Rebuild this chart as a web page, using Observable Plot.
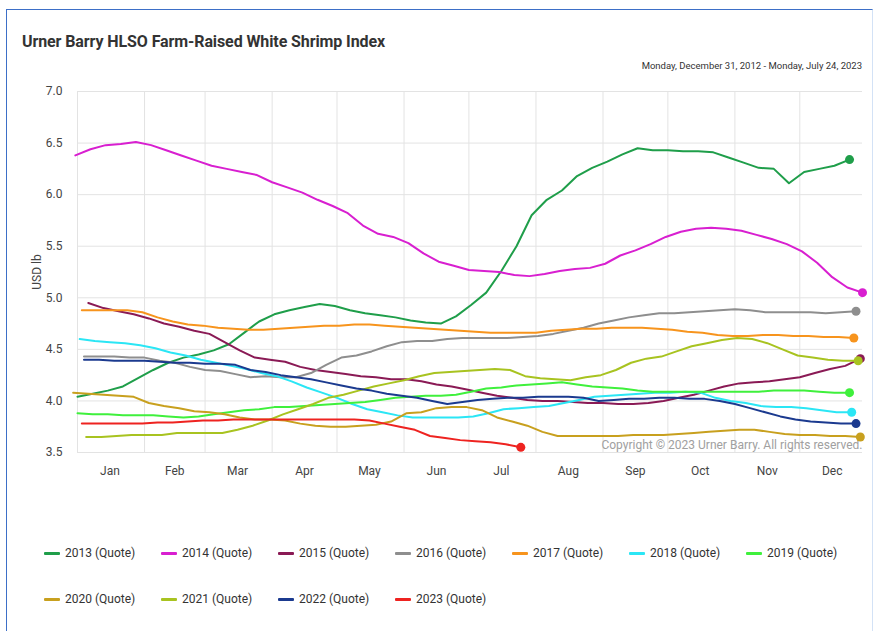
<!DOCTYPE html>
<html><head><meta charset="utf-8">
<script src="https://cdn.jsdelivr.net/npm/d3@7"></script>
<script src="https://cdn.jsdelivr.net/npm/@observablehq/plot@0.6"></script>
<style>
body{margin:0;background:#fff;font-family:Roboto,"Noto Sans",sans-serif;}
#wrap{position:relative;width:875px;height:631px;overflow:hidden;}
#frame{position:absolute;left:6px;top:9px;width:865px;height:640px;border-top:1.5px solid #3d6fc7;border-left:1.5px solid #3d6fc7;border-right:1px solid #d3e2f6;}
#title{position:absolute;left:22px;top:32px;font-size:16px;font-weight:700;color:#333;white-space:nowrap;letter-spacing:-0.1px;}
#subtitle{position:absolute;right:13px;top:60px;font-size:9.5px;color:#333;white-space:nowrap;}
#chart{position:absolute;left:0;top:0;}
#legend{position:absolute;left:44px;top:544px;width:830px;display:flex;flex-wrap:wrap;}
.item{width:117px;height:46px;display:flex;align-items:flex-start;font-size:12px;color:#333;line-height:18px;white-space:nowrap;}
.sw{display:inline-block;width:16px;height:3px;margin:8px 5px 0 0;border-radius:1px;}
</style></head>
<body>
<div id="wrap">
  <div id="frame"></div>
  <div id="title"></div>
  <div id="subtitle"></div>
  <div id="chart"></div>
  <div id="legend"></div>
</div>
<script>
const titleText = "Urner Barry HLSO Farm-Raised White Shrimp Index";
const subtitleText = "Monday, December 31, 2012 - Monday, July 24, 2023";
const copyrightText = "Copyright © 2023 Urner Barry. All rights reserved.";

const seriesNames = ["2013 (Quote)","2014 (Quote)","2015 (Quote)","2016 (Quote)","2017 (Quote)","2018 (Quote)","2019 (Quote)","2020 (Quote)","2021 (Quote)","2022 (Quote)","2023 (Quote)"];
const seriesColors = ["#1f9e4a","#d81fd0","#8a1a55","#8e8e8e","#f7941d","#2be6f5","#3ff03c","#c8a01e","#a8c320","#1b3a8f","#ee2320"];
// first weekly quote, as day of the year
const startDays = [0,-1,5,3,2,1,0,-2,4,3,2];

const monthLabels = ["Jan","Feb","Mar","Apr","May","Jun","Jul","Aug","Sep","Oct","Nov","Dec"];
const monthStarts = [0,31,59,90,120,151,181,212,243,273,304,334];
const monthMids = [15,45,74,105,135,166,196,227,258,288,319,349];
const yTicks = [3.5,4.0,4.5,5.0,5.5,6.0,6.5,7.0];

// weekly quotes, USD/lb
const v2013 = [4.04,4.07,4.10,4.14,4.22,4.30,4.37,4.42,4.45,4.49,4.55,4.66,4.77,4.84,4.88,4.91,4.94,4.92,4.88,4.85,4.83,4.81,4.78,4.76,4.75,4.82,4.93,5.05,5.26,5.50,5.80,5.95,6.04,6.18,6.26,6.32,6.39,6.45,6.43,6.43,6.42,6.42,6.41,6.36,6.31,6.26,6.25,6.11,6.22,6.25,6.28,6.34];
const v2014 = [6.38,6.44,6.48,6.49,6.51,6.48,6.43,6.38,6.33,6.28,6.25,6.22,6.19,6.12,6.07,6.02,5.95,5.89,5.82,5.70,5.62,5.59,5.53,5.43,5.35,5.31,5.27,5.26,5.25,5.22,5.21,5.23,5.26,5.28,5.29,5.33,5.41,5.46,5.52,5.59,5.64,5.67,5.68,5.67,5.65,5.61,5.57,5.52,5.45,5.34,5.20,5.10,5.05];
const v2015 = [4.95,4.90,4.87,4.84,4.80,4.75,4.72,4.68,4.65,4.57,4.49,4.42,4.40,4.38,4.33,4.30,4.28,4.26,4.24,4.23,4.21,4.21,4.19,4.16,4.14,4.11,4.08,4.05,4.03,4.01,4.00,4.00,3.99,3.98,3.98,3.97,3.97,3.98,4.00,4.03,4.06,4.10,4.14,4.17,4.18,4.19,4.21,4.23,4.27,4.31,4.34,4.41];
const v2016 = [4.43,4.43,4.43,4.42,4.42,4.39,4.37,4.33,4.30,4.29,4.26,4.23,4.24,4.23,4.23,4.27,4.35,4.42,4.44,4.48,4.53,4.57,4.58,4.58,4.60,4.61,4.61,4.61,4.61,4.62,4.63,4.65,4.68,4.71,4.75,4.78,4.81,4.83,4.85,4.85,4.86,4.87,4.88,4.89,4.88,4.86,4.86,4.86,4.86,4.85,4.86,4.87];
const v2017 = [4.88,4.88,4.88,4.88,4.86,4.81,4.77,4.74,4.73,4.71,4.70,4.69,4.69,4.70,4.71,4.72,4.73,4.73,4.74,4.74,4.73,4.72,4.71,4.70,4.69,4.68,4.67,4.66,4.66,4.66,4.66,4.68,4.69,4.70,4.70,4.71,4.71,4.71,4.70,4.69,4.67,4.66,4.64,4.63,4.63,4.64,4.64,4.63,4.63,4.62,4.62,4.61];
const v2018 = [4.60,4.58,4.57,4.56,4.54,4.51,4.47,4.44,4.40,4.37,4.34,4.31,4.27,4.24,4.19,4.13,4.08,4.03,3.97,3.92,3.89,3.86,3.84,3.84,3.84,3.84,3.85,3.88,3.92,3.93,3.94,3.95,3.98,4.01,4.04,4.05,4.06,4.07,4.08,4.08,4.09,4.08,4.03,4.00,3.98,3.95,3.94,3.94,3.93,3.91,3.89,3.89];
const v2019 = [3.88,3.87,3.87,3.86,3.86,3.86,3.85,3.84,3.85,3.87,3.89,3.91,3.92,3.94,3.94,3.95,3.96,3.97,3.98,3.99,4.01,4.03,4.04,4.05,4.05,4.06,4.09,4.12,4.13,4.15,4.16,4.17,4.18,4.16,4.14,4.13,4.12,4.10,4.09,4.09,4.09,4.09,4.09,4.09,4.09,4.09,4.10,4.10,4.10,4.09,4.08,4.08];
const v2020 = [4.08,4.07,4.06,4.05,4.04,3.98,3.95,3.93,3.90,3.89,3.87,3.84,3.82,3.82,3.81,3.78,3.76,3.75,3.75,3.76,3.77,3.80,3.88,3.89,3.93,3.94,3.94,3.91,3.84,3.80,3.76,3.70,3.66,3.66,3.66,3.66,3.66,3.67,3.67,3.67,3.68,3.69,3.70,3.71,3.72,3.72,3.70,3.68,3.67,3.67,3.66,3.66,3.65];
const v2021 = [3.65,3.65,3.66,3.67,3.67,3.67,3.69,3.69,3.69,3.69,3.72,3.76,3.81,3.87,3.92,3.97,4.03,4.06,4.10,4.14,4.17,4.20,4.24,4.27,4.28,4.29,4.30,4.31,4.30,4.24,4.22,4.21,4.20,4.23,4.25,4.30,4.37,4.41,4.43,4.48,4.53,4.56,4.59,4.61,4.60,4.56,4.50,4.44,4.42,4.40,4.39,4.39];
const v2022 = [4.40,4.40,4.39,4.39,4.39,4.38,4.37,4.37,4.36,4.36,4.35,4.30,4.28,4.25,4.23,4.21,4.18,4.15,4.12,4.10,4.07,4.05,4.03,4.00,3.97,3.99,4.01,4.02,4.03,4.03,4.04,4.04,4.04,4.03,4.00,4.01,4.02,4.02,4.03,4.03,4.02,4.02,4.00,3.97,3.93,3.89,3.85,3.82,3.80,3.79,3.78,3.78];
const v2023 = [3.78,3.78,3.78,3.78,3.78,3.79,3.79,3.80,3.81,3.81,3.82,3.82,3.82,3.82,3.82,3.82,3.82,3.82,3.82,3.81,3.78,3.75,3.72,3.66,3.64,3.62,3.61,3.60,3.58,3.55];

const allValues = [v2013,v2014,v2015,v2016,v2017,v2018,v2019,v2020,v2021,v2022,v2023];

const rows = [];
const ends = [];
allValues.forEach((vals, s) => {
  vals.forEach((v, i) => rows.push({name: seriesNames[s], day: startDays[s] + 7 * i, value: v}));
  ends.push({name: seriesNames[s], day: startDays[s] + 7 * (vals.length - 1), value: vals[vals.length - 1]});
});

document.getElementById("title").textContent = titleText;
document.getElementById("subtitle").textContent = subtitleText;

const chart = Plot.plot({
  width: 875,
  height: 500,
  marginTop: 91,
  marginBottom: 48,
  marginLeft: 77,
  marginRight: 13,
  style: {fontFamily: "Roboto, 'Noto Sans', sans-serif", fontSize: "12px", color: "#555", background: "transparent"},
  x: {domain: [0, 363]},
  y: {domain: [3.5, 7.0]},
  color: {domain: seriesNames, range: seriesColors},
  marks: [
    Plot.gridX(monthStarts, {stroke: "#e3e3e3", strokeOpacity: 1}),
    Plot.gridY(yTicks, {stroke: "#e3e3e3", strokeOpacity: 1}),
    Plot.axisX(monthMids, {tickSize: 0, tickPadding: 14, tickFormat: d => monthLabels[monthMids.indexOf(d)], label: null, fill: "#444"}),
    Plot.axisY(yTicks, {tickSize: 0, tickPadding: 15, tickFormat: d => d.toFixed(1), label: "USD lb", labelAnchor: "center", labelArrow: "none", labelOffset: 45, fill: "#444"}),
    Plot.text([copyrightText], {frameAnchor: "bottom-right", dy: -4, fill: "#a0a0a0", fontSize: 12}),
    Plot.line(rows, {x: "day", y: "value", z: "name", stroke: "name", strokeWidth: 2}),
    Plot.dot(ends, {x: "day", y: "value", fill: "name", r: 4.5})
  ]
});
document.getElementById("chart").appendChild(chart);

const legend = document.getElementById("legend");
seriesNames.forEach((n, i) => {
  const item = document.createElement("div");
  item.className = "item";
  const sw = document.createElement("span");
  sw.className = "sw";
  sw.style.background = seriesColors[i];
  item.appendChild(sw);
  item.appendChild(document.createTextNode(n));
  legend.appendChild(item);
});
</script>
</body></html>
